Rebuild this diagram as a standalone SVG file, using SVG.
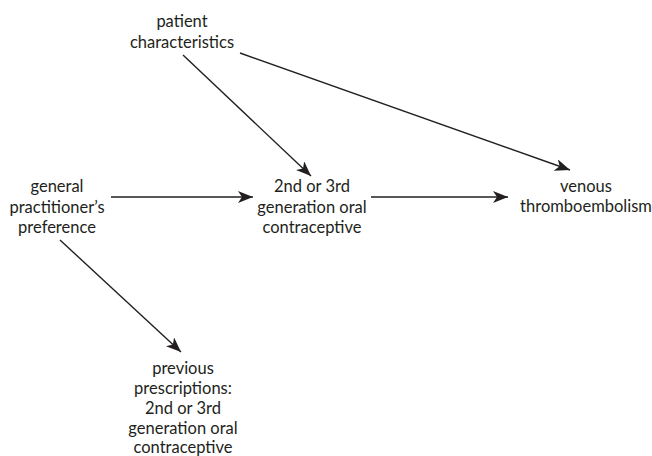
<svg xmlns="http://www.w3.org/2000/svg" width="652" height="456" viewBox="0 0 652 456">
<style>
text{font-family:Lato,"Open Sans",sans-serif;font-size:16.5px;fill:#231f20;text-anchor:middle}
.c line{stroke:#231f20;stroke-width:1.4;marker-end:url(#ah)}
</style>
<defs>
<marker id="ah" markerWidth="16" markerHeight="12" refX="15" refY="6" orient="auto" markerUnits="userSpaceOnUse">
<path d="M0,0 L15,6 L0,12 L4,6 Z" fill="#231f20"/>
</marker>
</defs>
<rect width="652" height="456" fill="#fff"/>
<g id="patient"><text x="182" y="27">patient</text><text x="182" y="48">characteristics</text></g>
<g id="gp"><text x="57" y="192">general</text><text x="57" y="213">practitioner’s</text><text x="57" y="233">preference</text></g>
<g id="oc"><text x="312" y="192">2nd or 3rd</text><text x="312" y="213">generation oral</text><text x="312" y="233">contraceptive</text></g>
<g id="vte"><text x="586" y="192">venous</text><text x="586" y="212">thromboembolism</text></g>
<g id="prev"><text x="183" y="374">previous</text><text x="183" y="394">prescriptions:</text><text x="183" y="414">2nd or 3rd</text><text x="183" y="434">generation oral</text><text x="183" y="453">contraceptive</text></g>
<g class="c" id="connectors">
<line x1="183" y1="55" x2="311" y2="176"/>
<line x1="240" y1="53" x2="570" y2="170"/>
<line x1="111" y1="197" x2="253" y2="197"/>
<line x1="371" y1="197" x2="508" y2="197"/>
<line x1="60" y1="240" x2="181" y2="352"/>
</g>
</svg>
